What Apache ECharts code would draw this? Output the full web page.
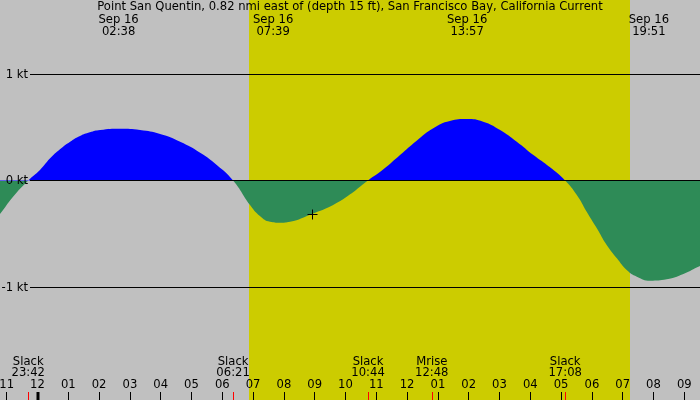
<!DOCTYPE html>
<html>
<head>
<meta charset="utf-8">
<script src="https://cdn.jsdelivr.net/npm/echarts@6/dist/echarts.min.js"></script>
<style>
  html, body { margin: 0; padding: 0; background: #c0c0c0; }
  #chart { width: 700px; height: 400px; }
</style>
</head>
<body>
<div id="chart"></div>
<script>
// hours since 00:00 Sep 16, current speed in knots
const hours = [-1.35, -1.22, -0.8, -0.3, 0.08, 0.41, 0.73, 1.06, 1.38, 1.7, 2.03, 2.68, 3.33, 3.98,
  4.63, 5.28, 5.82, 6.35, 6.9, 7.22, 7.55, 7.87, 8.2, 8.9, 9.6, 10.15, 10.47, 10.73,
  11.23, 11.77, 12.31, 12.85, 13.39, 13.94, 14.47, 15.02, 15.56, 16.1, 16.64, 17.13,
  17.51, 17.83, 18.16, 18.48, 18.81, 19.13, 19.46, 19.89, 20.43, 20.97, 21.51, 21.7]
const speeds = [-0.35, -0.315, -0.155, 0, 0.099, 0.208, 0.293, 0.364, 0.418, 0.452, 0.474, 0.486, 0.474, 0.437,
  0.364, 0.261, 0.146, 0, -0.23, -0.333, -0.387, -0.396, -0.387, -0.315, -0.23, -0.13, -0.058, 0,
  0.105, 0.239, 0.374, 0.49, 0.559, 0.577, 0.552, 0.474, 0.364, 0.239, 0.124, 0,
  -0.136, -0.293, -0.449, -0.606, -0.731, -0.84, -0.903, -0.941, -0.928, -0.878, -0.803, -0.785]

// max flood / max ebb labels along the top
const peakTimes = [2.633, 7.65, 13.95, 19.85]
const peakDates = ['Sep 16', 'Sep 16', 'Sep 16', 'Sep 16']
const peakClocks = ['02:38', '07:39', '13:57', '19:51']

// slack / moonrise labels along the bottom
const eventTimes = [-0.3, 6.35, 10.733, 12.8, 17.133]
const eventNames = ['Slack', 'Slack', 'Slack', 'Mrise', 'Slack']
const eventClocks = ['23:42', '06:21', '10:44', '12:48', '17:08']

const levelValues = [1, 0, -1]
const levelLabels = ['1 kt', '0 kt', '-1 kt']

const daylight = [6.87, 19.24]
const midnight = [0]
const nowPoint = [8.93, -0.315]

const FONT = '11.6px "DejaVu Sans", sans-serif'
const FLOOD = '#0000ff'
const EBB = '#2e8b57'
const DAY = '#cccc00'

const Y_MIN = -2.061
const Y_MAX = 1.695
const HEIGHT = 400

// hard colour change exactly at 0 kt (grid fills the whole canvas height)
const zeroStop = Y_MAX / (Y_MAX - Y_MIN)
const areaFill = new echarts.graphic.LinearGradient(0, 0, 0, HEIGHT, [
  { offset: 0, color: FLOOD },
  { offset: zeroStop, color: FLOOD },
  { offset: zeroStop, color: EBB },
  { offset: 1, color: EBB },
], true)

function hourLabel(v) {
  let h = ((v % 12) + 12) % 12
  if (h === 0) h = 12
  return String(h).padStart(2, '0')
}

function text(str, x, y, align) {
  return {
    type: 'text',
    style: { text: str, x, y, align: align || 'center', verticalAlign: 'middle', font: FONT, fill: '#000' },
  }
}

const chart = echarts.init(document.getElementById('chart'))

chart.setOption({
  backgroundColor: '#c0c0c0',
  animation: false,
  title: {
    text: 'Point San Quentin, 0.82 nmi east of (depth 15 ft), San Francisco Bay, California Current',
    left: 'center',
    top: 1.2,
    padding: 0,
    textStyle: { fontFamily: '"DejaVu Sans", sans-serif', fontSize: 11.6, fontWeight: 'normal', color: '#000' },
  },
  grid: { left: -24.1, right: -15.1, top: 0, bottom: 0, containLabel: false, outerBoundsMode: 'none' },
  xAxis: {
    type: 'value',
    min: -2,
    max: 22,
    interval: 1,
    axisLine: { show: false, onZero: false },
    axisTick: { inside: true, length: 8, lineStyle: { color: '#000', width: 1 } },
    axisLabel: {
      inside: true, margin: 9, formatter: hourLabel,
      fontFamily: '"DejaVu Sans", sans-serif', fontSize: 11.6, color: '#000',
    },
    splitLine: { show: false },
    z: 5,
  },
  yAxis: {
    type: 'value',
    min: Y_MIN,
    max: Y_MAX,
    show: false,
    splitLine: { show: false },
  },
  series: [
    {
      type: 'custom',
      name: 'daylight',
      z: 0,
      silent: true,
      data: [[daylight[0], 0, daylight[1]]],
      renderItem(params, api) {
        const cs = params.coordSys
        const x0 = Math.round(api.coord([api.value(0), 0])[0])
        const x1 = Math.round(api.coord([api.value(2), 0])[0])
        return { type: 'rect', shape: { x: x0, y: cs.y, width: x1 - x0, height: cs.height }, style: { fill: DAY } }
      },
    },
    {
      type: 'line',
      name: 'current',
      z: 1,
      data: hours.map((h, i) => [h, speeds[i]]),
      smooth: 0.5,
      showSymbol: false,
      lineStyle: { width: 0, opacity: 0 },
      areaStyle: { color: areaFill, opacity: 1, origin: 0 },
    },
    {
      type: 'custom',
      name: 'levels',
      z: 3,
      silent: true,
      data: levelValues.map(v => [0, v]),
      renderItem(params, api) {
        const y = Math.floor(api.coord([0, api.value(1)])[1]) + 0.5
        return {
          type: 'group',
          children: [
            { type: 'line', shape: { x1: 30, y1: y, x2: 700, y2: y }, style: { stroke: '#000', lineWidth: 1 } },
            text(levelLabels[params.dataIndex], 28, y, 'right'),
          ],
        }
      },
    },
    {
      type: 'custom',
      name: 'peaks',
      z: 4,
      silent: true,
      data: peakTimes.map(t => [t, 0]),
      renderItem(params, api) {
        const x = api.coord([api.value(0), 0])[0]
        const i = params.dataIndex
        return {
          type: 'group',
          children: [text(peakDates[i], x, 19.7), text(peakClocks[i], x, 31.8)],
        }
      },
    },
    {
      type: 'custom',
      name: 'events',
      z: 4,
      silent: true,
      data: eventTimes.map(t => [t, 0]),
      renderItem(params, api) {
        const cs = params.coordSys
        const bottom = cs.y + cs.height
        const x = api.coord([api.value(0), 0])[0]
        const i = params.dataIndex
        return {
          type: 'group',
          children: [
            { type: 'rect', shape: { x: Math.round(x), y: bottom - 8, width: 1, height: 8 }, style: { fill: '#ff0000' } },
            text(eventNames[i], x, bottom - 38.3),
            text(eventClocks[i], x, bottom - 26.7),
          ],
        }
      },
    },
    {
      type: 'custom',
      name: 'midnight',
      z: 4,
      silent: true,
      data: midnight.map(t => [t, 0]),
      renderItem(params, api) {
        const cs = params.coordSys
        const x = api.coord([api.value(0), 0])[0]
        return { type: 'rect', shape: { x: Math.round(x) - 1.5, y: cs.y + cs.height - 8, width: 3, height: 8 }, style: { fill: '#000' } }
      },
    },
    {
      type: 'custom',
      name: 'now',
      z: 4,
      silent: true,
      data: [nowPoint],
      renderItem(params, api) {
        const p = api.coord([api.value(0), api.value(1)])
        const cx = Math.floor(p[0]) + 0.5
        const cy = Math.floor(p[1]) + 0.5
        return {
          type: 'group',
          children: [
            { type: 'line', shape: { x1: cx - 5, y1: cy, x2: cx + 5, y2: cy }, style: { stroke: '#000', lineWidth: 1 } },
            { type: 'line', shape: { x1: cx, y1: cy - 5, x2: cx, y2: cy + 5 }, style: { stroke: '#000', lineWidth: 1 } },
          ],
        }
      },
    },
  ],
})
</script>
</body>
</html>
